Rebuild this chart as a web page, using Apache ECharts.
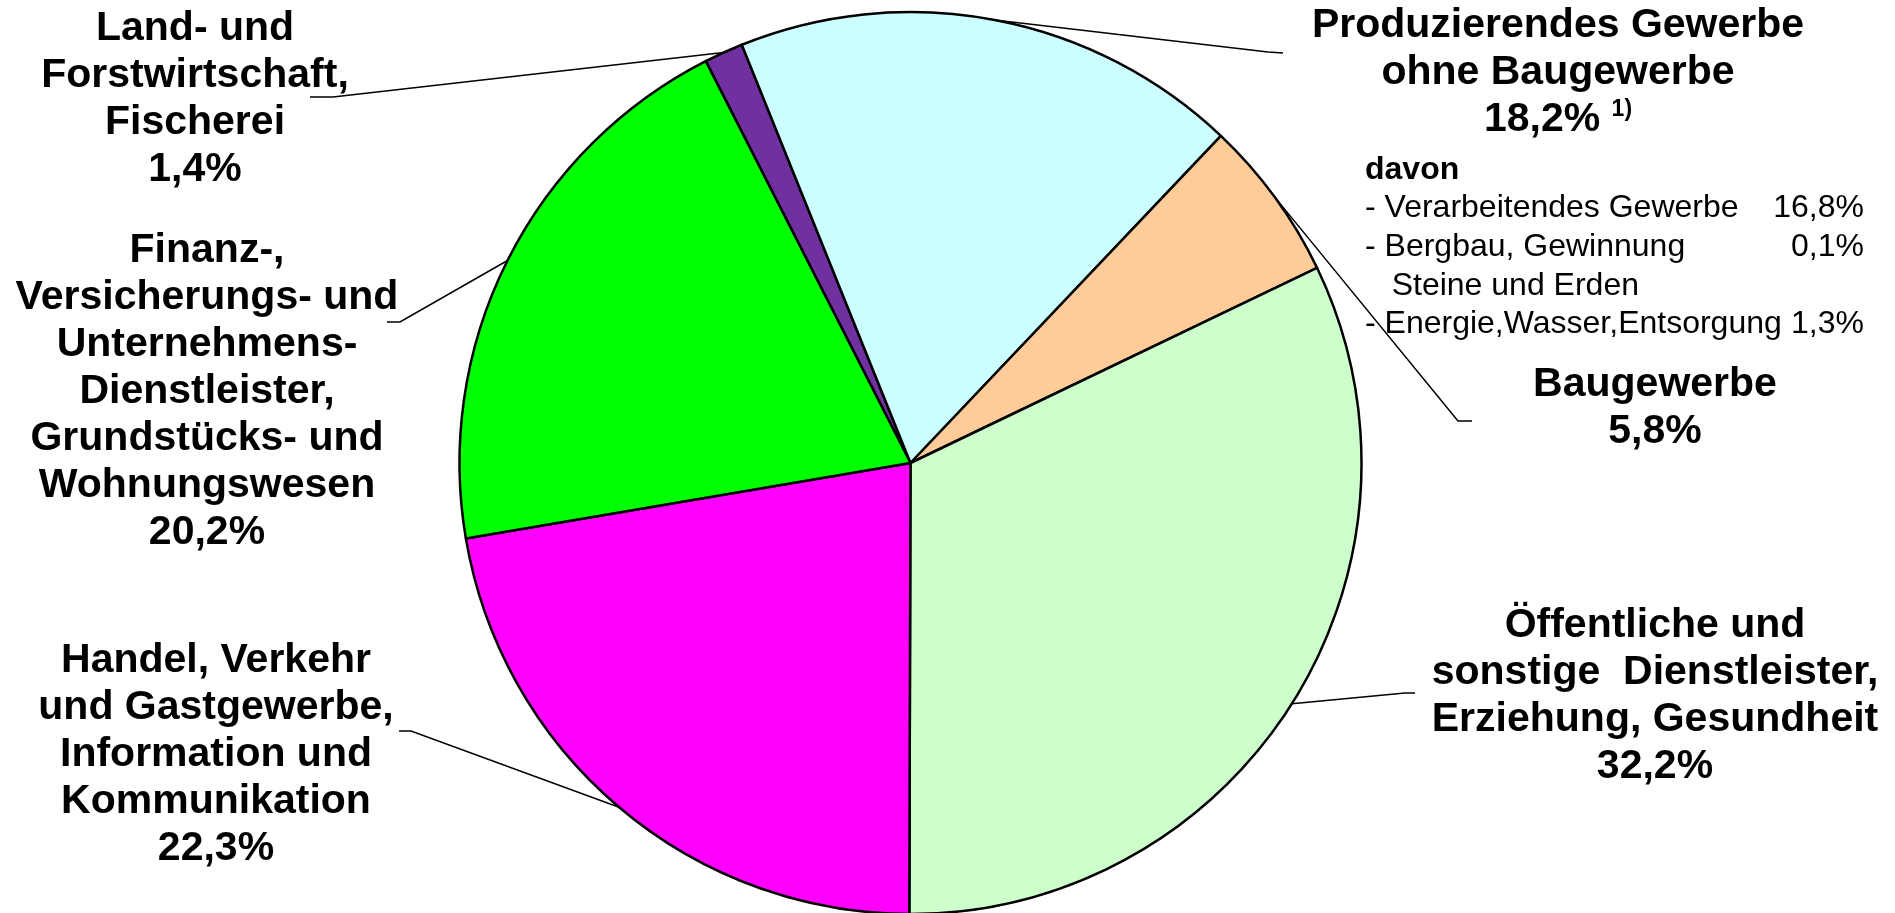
<!DOCTYPE html>
<html>
<head>
<meta charset="utf-8">
<script src="https://cdn.jsdelivr.net/npm/echarts@6/dist/echarts.min.js"></script>
<style>
html,body{margin:0;padding:0;background:#ffffff;}
#chart{width:1895px;height:913px;}
</style>
</head>
<body>
<div id="chart"></div>
<script>
// ---------- data ----------
const categories = [
  'Land- und Forstwirtschaft, Fischerei',
  'Produzierendes Gewerbe ohne Baugewerbe',
  'Baugewerbe',
  'Öffentliche und sonstige Dienstleister, Erziehung, Gesundheit',
  'Handel, Verkehr und Gastgewerbe, Information und Kommunikation',
  'Finanz-, Versicherungs- und Unternehmens-Dienstleister, Grundstücks- und Wohnungswesen'
];
const labelTexts = [
  'Land- und\nForstwirtschaft,\nFischerei',
  'Produzierendes Gewerbe\nohne Baugewerbe',
  'Baugewerbe',
  'Öffentliche und\nsonstige  Dienstleister,\nErziehung, Gesundheit',
  'Handel, Verkehr\nund Gastgewerbe,\nInformation und\nKommunikation',
  'Finanz-,\nVersicherungs- und\nUnternehmens-\nDienstleister,\nGrundstücks- und\nWohnungswesen'
];
const shares = [1.4, 18.2, 5.8, 32.2, 22.3, 20.2];
const footnotes = ['', '1)', '', '', '', ''];
const colors = ['#7030A0', '#CCFFFF', '#FFCC99', '#CCFFCC', '#FF00FF', '#00FF00'];

const subHeading = 'davon';
const subItems = ['- Verarbeitendes Gewerbe', '- Bergbau, Gewinnung\n   Steine und Erden', '- Energie,Wasser,Entsorgung'];
const subShares = [16.8, 0.1, 1.3];

// ---------- layout (annotation positions, px) ----------
const pieCenter = [910.5, 463];
const pieRadius = 451;
const pieStartAngle = 117;
const labelCenters = [[195, 99], [1558, 73], [1655, 408], [1655, 696], [216, 755], [207, 392]];
const lineElbows = [[333, 97], [1268, 52], [1458, 421], [1405, 693], [411, 731], [400, 322]];
const lineEnds   = [[310, 97], [1283, 53], [1472, 421], [1415, 693], [399, 731], [387, 322]];
const subBlock = { left: 1365, right: 1864, firstLineCenter: 170, lineHeight: 38.6 };

const FONT = '"Liberation Sans", Arial, Helvetica, sans-serif';
const fmt = v => v.toFixed(1).replace('.', ',') + '%';

const chart = echarts.init(document.getElementById('chart'), null, { renderer: 'canvas' });

const pieData = categories.map((name, i) => ({
  name: name,
  value: shares[i],
  itemStyle: { color: colors[i] }
}));

// sub-breakdown graphic texts
const graphics = [];
graphics.push({
  type: 'text', left: subBlock.left, top: subBlock.firstLineCenter - subBlock.lineHeight / 2,
  style: { text: subHeading, font: 'bold 32px ' + FONT, fill: '#000', lineHeight: subBlock.lineHeight }
});
let lineIdx = 1;
subItems.forEach((txt, k) => {
  const top = subBlock.firstLineCenter - subBlock.lineHeight / 2 + lineIdx * subBlock.lineHeight;
  graphics.push({
    type: 'text', x: subBlock.left, y: top,
    style: { text: txt, font: '32px ' + FONT, fill: '#000', lineHeight: subBlock.lineHeight,
             align: 'left', textAlign: 'left', verticalAlign: 'top', textVerticalAlign: 'top' }
  });
  graphics.push({
    type: 'text', x: subBlock.right, y: top,
    style: { text: fmt(subShares[k]), font: '32px ' + FONT, fill: '#000', lineHeight: subBlock.lineHeight,
             align: 'right', textAlign: 'right', verticalAlign: 'top', textVerticalAlign: 'top' }
  });
  lineIdx += txt.split('\n').length;
});

const option = {
  backgroundColor: '#ffffff',
  animation: false,
  graphic: graphics,
  series: [{
    type: 'pie',
    center: pieCenter,
    radius: pieRadius,
    startAngle: pieStartAngle,
    clockwise: true,
    avoidLabelOverlap: false,
    data: pieData,
    itemStyle: { borderColor: '#000', borderWidth: 2.5 },
    emphasis: { disabled: true },
    label: {
      show: true,
      position: 'outside',
      fontFamily: FONT,
      fontWeight: 'bold',
      fontSize: 41,
      lineHeight: 47,
      color: '#000',
      align: 'center',
      formatter: p => {
        const i = p.dataIndex;
        let s = labelTexts[i] + '\n' + fmt(shares[i]);
        if (footnotes[i]) s += ' {sup|' + footnotes[i] + '}';
        return s;
      },
      rich: {
        sup: { fontFamily: FONT, fontWeight: 'bold', fontSize: 23, lineHeight: 47, verticalAlign: 'top', padding: [2, 0, 0, 0], color: '#000' }
      }
    },
    labelLine: {
      show: true,
      length: 15,
      length2: 15,
      lineStyle: { color: '#000', width: 1.5 }
    },
    labelLayout: function (p) {
      const i = p.dataIndex;
      const res = {
        x: labelCenters[i][0],
        y: labelCenters[i][1],
        align: 'center',
        verticalAlign: 'middle'
      };
      if (p.labelLinePoints && p.labelLinePoints.length) {
        res.labelLinePoints = [p.labelLinePoints[0], lineElbows[i], lineEnds[i]];
      }
      return res;
    }
  }]
};
chart.setOption(option);
</script>
</body>
</html>
